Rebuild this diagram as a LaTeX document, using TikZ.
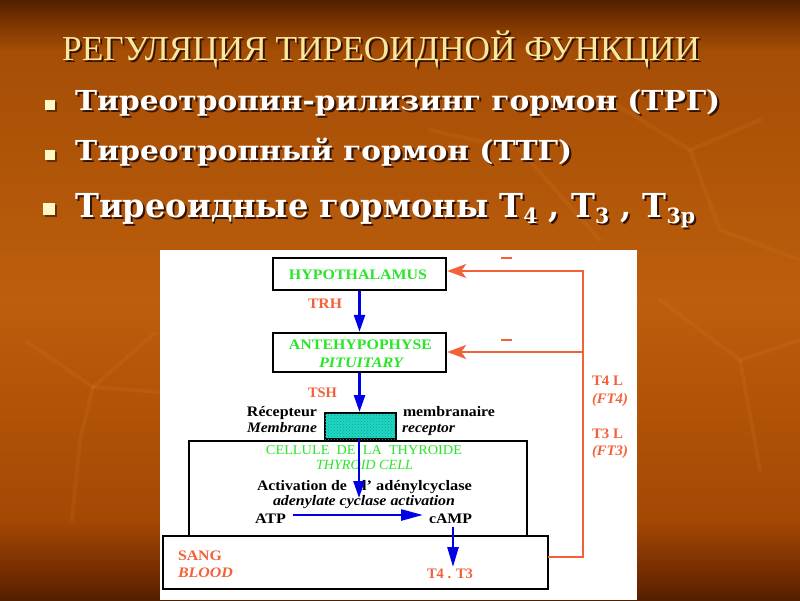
\documentclass[tikz,border=0pt]{standalone}
\usepackage{fontspec}
\setmainfont{Liberation Serif}
\newfontfamily\bulfont{DejaVu Serif}
\usepackage{graphicx}
\usetikzlibrary{arrows.meta,patterns}
\definecolor{bgA}{RGB}{80,32,0}
\definecolor{bgB}{RGB}{120,50,0}
\definecolor{bgC}{RGB}{165,78,6}
\definecolor{bgD}{RGB}{188,94,12}
\definecolor{bgE}{RGB}{165,72,4}
\definecolor{bgF}{RGB}{105,38,0}
\definecolor{vein}{RGB}{230,140,40}
\definecolor{titlecol}{RGB}{250,232,160}
\definecolor{shadcol}{RGB}{55,20,0}
\definecolor{bulcol}{RGB}{255,248,195}
\definecolor{grn}{RGB}{40,230,40}
\definecolor{org}{RGB}{242,98,58}
\definecolor{arrblue}{RGB}{0,0,230}
\definecolor{teal}{RGB}{30,215,195}
\pgfdeclareverticalshading{bgshade}{100bp}{color(0bp)=(bgA); color(25bp)=(bgA); color(26.25bp)=(bgF); color(31.7bp)=(bgE); color(50bp)=(bgD); color(70.8bp)=(bgC); color(73.3bp)=(bgB); color(75bp)=(bgA); color(100bp)=(bgA)}
\newcommand{\fitw}[2]{\resizebox{#1pt}{\height}{#2}}
\newcommand{\shad}[1]{\makebox[0pt][l]{\hspace{2pt}\raisebox{-2pt}{\textcolor{shadcol}{#1}}}#1}
\newcommand{\subx}[1]{\raisebox{-6pt}{\fontsize{21}{21}\selectfont #1}}
\newcommand{\lineA}{Тиреотропин-рилизинг гормон (ТРГ)}
\newcommand{\lineB}{Тиреотропный гормон (ТТГ)}
\newcommand{\lineC}{Тиреоидные гормоны Т\subx{4} , Т\subx{3} , Т\subx{3р}}
\newcommand{\ttl}{РЕГУЛЯЦИЯ ТИРЕОИДНОЙ ФУНКЦИИ}
\tikzset{
  lab/.style={inner sep=0pt, anchor=base, font=\fontsize{14.5}{15}\selectfont\bfseries},
  ilab/.style={lab, font=\fontsize{14.5}{15}\selectfont\bfseries\itshape},
  box/.style={draw=black, line width=2.4pt, inner sep=0pt, fill=white},
  barrow/.style={draw=arrblue, line width=2.6pt, -{Triangle[length=17pt,width=11pt]}},
  oline/.style={draw=org, line width=2.4pt},
  oarrow/.style={oline, -{Stealth[length=19pt,width=14pt,inset=5pt]}},
  bigtext/.style={inner sep=0pt, anchor=base west},
  bull/.style={fill=bulcol, minimum size=10pt, inner sep=0pt, anchor=south west},
}
\begin{document}
\begin{tikzpicture}[x=1pt,y=-1pt]
\useasboundingbox (0,0) rectangle (800,600);
% background
\fill[shading=bgshade] (0,0) rectangle (800,600);
\begin{scope}[vein, opacity=0.12, line width=4pt, line cap=round, line join=round]
  \draw (27,342) -- (93,387) -- (155,333);
  \draw (93,387) -- (80,440) -- (72,520);
  \draw (93,387) -- (160,392);
  \draw (600,95) -- (690,150) -- (760,120);
  \draw (690,150) -- (720,230) -- (800,260);
  \draw (430,130) -- (520,150) -- (600,240);
  \draw (660,300) -- (740,360) -- (800,340);
  \draw (740,360) -- (760,470);
\end{scope}
% title
\node[bigtext, text=titlecol] (ttl) at (62,60) {\fontsize{35}{35}\selectfont\fitw{638}{\shad{\ttl}}};
% bullets
\node[bull, fill=shadcol, opacity=0.6] (b1s) at (47,112) {};
\node[bull] (b1) at (45,110) {};
\node[bull, fill=shadcol, opacity=0.6] (b2s) at (47,162) {};
\node[bull] (b2) at (45,160) {};
\node[bull, fill=shadcol, opacity=0.6, minimum size=12pt] (b3s) at (45,217) {};
\node[bull, minimum size=12pt] (b3) at (43,215) {};
\node[bigtext, text=white] (l1) at (75,110) {\bulfont\bfseries\fontsize{27.5}{28}\selectfont\fitw{645}{\shad{\lineA}}};
\node[bigtext, text=white] (l2) at (75,160) {\bulfont\bfseries\fontsize{27.5}{28}\selectfont\fitw{497}{\shad{\lineB}}};
\node[bigtext, text=white] (l3) at (75,217) {\bulfont\bfseries\fontsize{33}{34}\selectfont\fitw{620}{\shad{\lineC}}};
% white panel
\fill[white] (160,250) rectangle (637,600);
% boxes
\node[box, minimum width=173pt, minimum height=32pt] (hyp) at (359.5,274) {};
\node[box, minimum width=173pt, minimum height=39pt] (ante) at (359.5,352.5) {};
\node[box, minimum width=385pt, minimum height=53pt, line width=2.2pt] (blood) at (355.5,562.5) {};
\node[box, minimum width=338pt, minimum height=95pt, line width=2.2pt] (cell) at (358,488.5) {};
\node[box, minimum width=71pt, minimum height=26pt, fill=teal, line width=2pt,
      postaction={pattern=crosshatch dots, pattern color=black!25!teal}] (rec) at (360.5,426) {};
% labels
\node[lab, text=grn] (thyp) at (358,279) {\fitw{138}{HYPOTHALAMUS}};
\node[lab, text=grn] (tante) at (360.5,349) {\fitw{143}{ANTEHYPOPHYSE}};
\node[ilab, text=grn] (tpit) at (361,367) {\fitw{84}{PITUITARY}};
\node[lab, text=org] (trh) at (325,308) {\fitw{34}{TRH}};
\node[lab, text=org] (tsh) at (322.5,397) {\fitw{29}{TSH}};
\node[lab] (recfr) at (282,416) {\fitw{70}{Récepteur}};
\node[lab] (memfr) at (449,416) {\fitw{92}{membranaire}};
\node[ilab] (memen) at (282,432) {\fitw{70}{Membrane}};
\node[ilab] (recen) at (428.5,432) {\fitw{53}{receptor}};
\node[lab, font=\fontsize{13.5}{14}\selectfont, text=grn] (cellfr) at (364,454) {\fitw{196}{CELLULE\ \ DE\ \ LA\ \ THYROIDE}};
\node[lab, font=\fontsize{14}{14}\selectfont\itshape, text=grn] (cellen) at (364.5,469) {\fitw{97}{THYROID CELL}};
\node[lab] (act1) at (302,490) {\fitw{90}{Activation de}};
\node[lab] (act2) at (417,490) {\fitw{110}{l' adénylcyclase}};
\node[ilab] (act3) at (364,505) {\fitw{182}{adenylate cyclase activation}};
\node[lab] (atp) at (270.5,523) {\fitw{31}{ATP}};
\node[lab] (camp) at (450.5,523) {\fitw{43}{cAMP}};
\node[lab, text=org] (sang) at (200,560) {\fitw{44}{SANG}};
\node[ilab, text=org] (bloodt) at (205.5,577) {\fitw{55}{BLOOD}};
\node[lab, text=org] (t4t3) at (450,578) {\fitw{46}{T4 . T3}};
\node[lab, text=org] (t4l) at (607.5,385) {\fitw{31}{T4 L}};
\node[ilab, text=org] (ft4) at (610,403) {\fitw{36}{(FT4)}};
\node[lab, text=org] (t3l) at (607.5,438) {\fitw{31}{T3 L}};
\node[ilab, text=org] (ft3) at (610,455) {\fitw{36}{(FT3)}};
\node[inner sep=0pt, fill=org, minimum width=11pt, minimum height=2.5pt] (minus1) at (506,258) {};
\node[inner sep=0pt, fill=org, minimum width=11pt, minimum height=2.5pt] (minus2) at (506,340) {};
% blue arrows
\coordinate (actpt) at (359,498);
\coordinate (a1) at (293,515);
\coordinate (a2) at (423,515);
\coordinate (c1) at (453,527);
\coordinate (c2) at (453,567);
\draw[barrow] (hyp.south) -- (ante.north);
\draw[barrow] (ante.south) -- (ante.south |- rec.north);
\draw[barrow] (359,439) -- (actpt);
\draw[barrow, -{Triangle[length=22pt,width=11pt]}] (a1) -- (a2);
\draw[barrow, -{Triangle[length=20pt,width=11pt]}] (c1) -- (c2);
% orange feedback
\coordinate (fb0) at (548,557);
\coordinate (fbb) at (583,557);
\coordinate (fbm) at (583,352);
\coordinate (fbt) at (583,271);
\draw[oarrow] (fb0) -- (fbb) -- (fbt) -- (hyp.east |- fbt);
\draw[oarrow] (fbm) -- (ante.east |- fbm);
\end{tikzpicture}
\end{document}
